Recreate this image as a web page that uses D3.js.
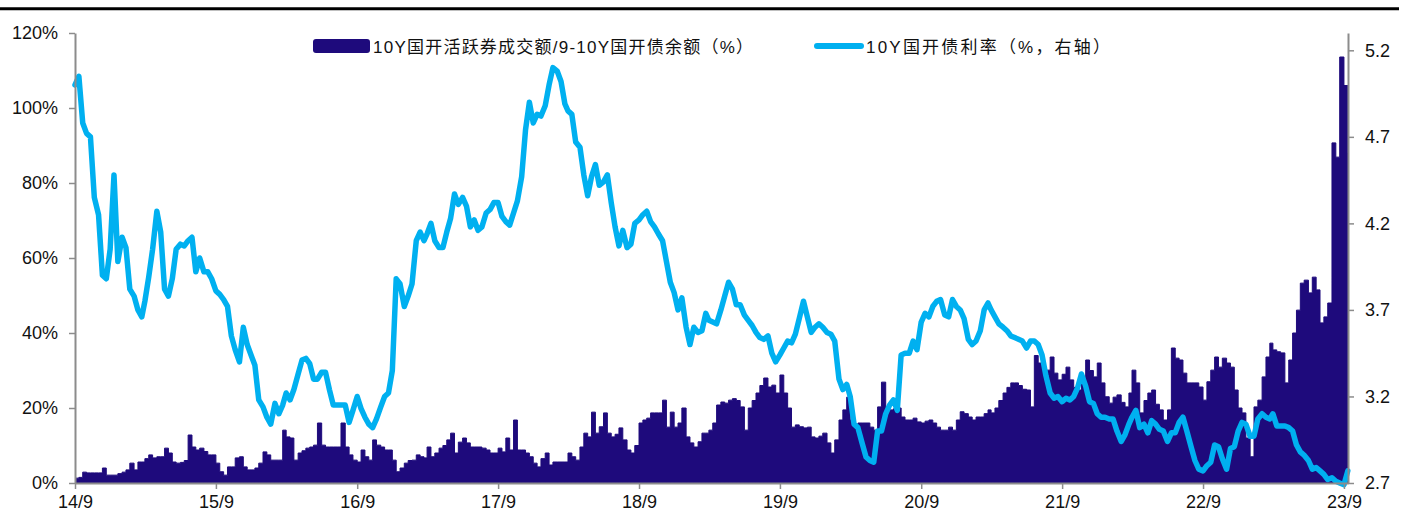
<!DOCTYPE html>
<html>
<head>
<meta charset="utf-8">
<script src="https://cdn.jsdelivr.net/npm/d3@7"></script>
<style>
  body { margin: 0; background: #fff; }
  text { font-family: "Liberation Sans", Arial, "Noto Sans CJK SC", sans-serif; fill: #111; }
</style>
</head>
<body>
<svg id="chart" width="1411" height="519"></svg>
<script>
// Series names (legend)
const barName = "10Y国开活跃券成交额/9-10Y国开债余额（%）";
const lineName = "10Y国开债利率（%，右轴）";

// 10Y active bond turnover / 9-10Y outstanding (%), one value per ten days from 2014-09-01
const ratio = [
  1.3, 1.5, 2.9, 2.7, 2.7, 2.7, 2.7, 4.0, 2.1, 2.1,
  2.1, 2.5, 2.9, 3.5, 5.3, 3.5, 5.6, 5.6, 6.5, 7.5,
  6.7, 7.0, 7.0, 9.3, 8.0, 5.6, 5.3, 5.5, 6.0, 12.8,
  9.6, 8.8, 9.3, 8.4, 7.5, 7.5, 5.3, 3.0, 2.1, 4.3,
  4.3, 6.7, 7.0, 4.3, 3.5, 3.5, 4.0, 5.3, 8.3, 7.5,
  6.1, 6.1, 6.1, 14.1, 12.3, 12.0, 6.1, 8.0, 8.6, 9.3,
  9.6, 10.1, 16.0, 10.1, 9.6, 9.6, 9.6, 9.6, 16.0, 9.6,
  7.5, 6.1, 5.6, 8.8, 7.0, 6.1, 11.5, 10.1, 9.6, 8.8,
  8.8, 6.1, 3.0, 4.0, 5.3, 6.0, 6.1, 7.5, 7.0, 6.7,
  9.6, 7.0, 8.0, 9.3, 10.0, 11.5, 13.3, 8.0, 10.9, 12.0,
  10.7, 9.6, 9.6, 9.6, 9.3, 8.8, 8.0, 8.0, 9.3, 8.3,
  12.0, 8.8, 16.8, 8.8, 8.8, 8.0, 7.0, 5.3, 4.3, 6.5,
  8.0, 4.8, 5.6, 5.6, 5.6, 5.6, 8.0, 7.0, 6.1, 9.6,
  13.3, 12.3, 18.9, 13.3, 15.0, 18.7, 13.3, 12.3, 13.0, 14.7,
  11.5, 8.8, 8.0, 10.0, 16.0, 16.8, 17.3, 18.7, 18.7, 18.7,
  22.1, 14.9, 18.9, 14.9, 16.0, 20.0, 12.3, 10.7, 9.6, 11.0,
  13.3, 13.3, 14.1, 16.0, 20.8, 21.6, 21.3, 22.1, 22.5, 22.0,
  20.3, 14.1, 20.0, 22.0, 24.0, 26.0, 28.0, 25.6, 26.1, 24.0,
  28.8, 24.0, 20.0, 14.9, 15.5, 15.0, 14.7, 14.9, 12.3, 12.0,
  12.5, 13.3, 10.7, 8.0, 11.5, 16.8, 19.5, 22.9, 16.8, 15.5,
  16.0, 16.0, 16.0, 14.9, 14.1, 20.3, 26.9, 20.3, 19.5, 19.8,
  20.0, 17.6, 16.8, 16.8, 17.3, 16.3, 16.0, 16.5, 16.8, 16.0,
  14.9, 14.1, 14.1, 14.9, 14.1, 16.8, 19.0, 18.5, 17.6, 16.8,
  17.6, 17.6, 18.5, 19.5, 18.7, 20.0, 22.0, 24.0, 25.5, 26.7,
  26.7, 26.0, 25.0, 24.8, 20.3, 34.0, 32.0, 30.9, 30.1, 33.6,
  29.3, 27.5, 29.0, 30.9, 27.5, 25.5, 24.8, 26.7, 32.8, 30.0,
  28.3, 32.0, 26.7, 23.0, 21.3, 22.9, 23.5, 21.5, 20.3, 24.0,
  30.1, 26.7, 18.7, 22.0, 24.0, 24.8, 21.0, 19.5, 16.8, 19.5,
  36.0, 33.3, 32.8, 29.3, 26.7, 26.7, 26.7, 25.6, 22.1, 27.0,
  30.1, 33.6, 30.9, 33.3, 32.0, 30.9, 24.8, 20.0, 18.7, 12.0,
  7.0, 20.3, 22.1, 28.3, 33.6, 37.3, 35.5, 35.0, 34.7, 26.7,
  32.8, 40.0, 46.1, 53.3, 54.1, 50.7, 54.9, 51.5, 42.7, 44.3,
  48.0, 90.7, 86.9, 113.6, 106.0, 88.0
];

// 10Y CDB yield (%), same dates
const yieldRate = [
  5.00, 5.05, 4.78, 4.72, 4.70, 4.35, 4.25, 3.90, 3.88, 4.05,
  4.48, 3.98, 4.12, 4.06, 3.82, 3.78, 3.70, 3.66, 3.75, 3.89,
  4.05, 4.27, 4.15, 3.82, 3.78, 3.88, 4.05, 4.08, 4.07, 4.10,
  4.12, 3.92, 4.00, 3.92, 3.92, 3.88, 3.81, 3.79, 3.76, 3.72,
  3.55, 3.47, 3.40, 3.60, 3.50, 3.44, 3.38, 3.18, 3.14, 3.08,
  3.04, 3.16, 3.10, 3.15, 3.22, 3.18, 3.24, 3.33, 3.41, 3.42,
  3.39, 3.30, 3.30, 3.34, 3.34, 3.24, 3.15, 3.15, 3.15, 3.15,
  3.05, 3.12, 3.20, 3.13, 3.08, 3.04, 3.02, 3.07, 3.14, 3.20,
  3.22, 3.35, 3.88, 3.85, 3.72, 3.78, 3.85, 4.10, 4.15, 4.10,
  4.14, 4.20, 4.10, 4.06, 4.06, 4.15, 4.23, 4.37, 4.31, 4.35,
  4.30, 4.18, 4.22, 4.16, 4.18, 4.26, 4.28, 4.32, 4.32, 4.24,
  4.21, 4.19, 4.26, 4.33, 4.47, 4.74, 4.90, 4.78, 4.83, 4.82,
  4.88, 5.00, 5.10, 5.08, 5.02, 4.89, 4.85, 4.83, 4.67, 4.64,
  4.48, 4.36, 4.47, 4.54, 4.42, 4.44, 4.48, 4.32, 4.18, 4.07,
  4.16, 4.06, 4.08, 4.20, 4.22, 4.25, 4.27, 4.21, 4.18, 4.14,
  4.10, 3.98, 3.86, 3.80, 3.70, 3.77, 3.60, 3.50, 3.60, 3.57,
  3.58, 3.68, 3.64, 3.63, 3.62, 3.70, 3.78, 3.86, 3.82, 3.73,
  3.73, 3.67, 3.64, 3.61, 3.57, 3.54, 3.53, 3.55, 3.45, 3.40,
  3.44, 3.48, 3.52, 3.51, 3.56, 3.65, 3.75, 3.66, 3.57, 3.60,
  3.62, 3.60, 3.57, 3.56, 3.52, 3.30, 3.24, 3.27, 3.20, 3.04,
  3.02, 2.93, 2.85, 2.83, 2.82, 3.00, 3.00, 3.10, 3.15, 3.18,
  3.12, 3.44, 3.45, 3.45, 3.52, 3.47, 3.63, 3.68, 3.66, 3.72,
  3.75, 3.76, 3.67, 3.66, 3.76, 3.72, 3.70, 3.65, 3.53, 3.50,
  3.52, 3.58, 3.70, 3.74, 3.70, 3.66, 3.62, 3.60, 3.58, 3.55,
  3.54, 3.53, 3.52, 3.48, 3.52, 3.52, 3.50, 3.44, 3.32, 3.22,
  3.19, 3.20, 3.17, 3.19, 3.18, 3.20, 3.25, 3.33, 3.26, 3.17,
  3.16, 3.10, 3.08, 3.08, 3.07, 3.07, 3.00, 2.94, 2.98, 3.04,
  3.08, 3.12, 3.02, 3.04, 2.99, 3.06, 3.04, 3.01, 3.00, 2.94,
  2.99, 2.99, 3.05, 3.08, 3.00, 2.91, 2.83, 2.78, 2.77, 2.80,
  2.82, 2.92, 2.91, 2.84, 2.78, 2.90, 2.91, 3.00, 3.05, 3.04,
  2.97, 2.97, 3.07, 3.10, 3.08, 3.07, 3.10, 3.03, 3.03, 3.03,
  3.02, 3.00, 2.92, 2.88, 2.86, 2.83, 2.78, 2.79, 2.77, 2.75,
  2.72, 2.73, 2.71, 2.70, 2.69, 2.77
];

// Axis ticks
const leftTicks = [0, 20, 40, 60, 80, 100, 120];
const rightTicks = [2.7, 3.2, 3.7, 4.2, 4.7, 5.2];
const xTickYears = [2014, 2015, 2016, 2017, 2018, 2019, 2020, 2021, 2022, 2023];

// Dates: 1st, 11th and 21st of every month starting 2014-09
const dates = [];
for (let m = 0; dates.length < ratio.length + 1; m++) {
  for (const day of [1, 11, 21]) dates.push(new Date(2014, 8 + m, day));
}

const barColor = "#1e0a7c";
const lineColor = "#00b0f0";
const axisColor = "#8c8c8c";

const margin = { left: 75, right: 63, top: 33, bottom: 36 };
const width = 1411, height = 519;
const plotRight = width - margin.right;    // 1348
const plotBottom = height - margin.bottom; // 483

const svg = d3.select("#chart");

const x = d3.scaleTime()
  .domain([new Date(2014, 8, 1), new Date(2023, 8, 11, 12)])
  .range([margin.left, plotRight]);
const yL = d3.scaleLinear().domain([0, 120]).range([plotBottom, margin.top]);
const yR = d3.scaleLinear().domain([2.7, 5.3]).range([plotBottom, margin.top]);

// top rule
svg.append("line")
  .attr("x1", 0).attr("x2", 1399).attr("y1", 8.7).attr("y2", 8.7)
  .attr("stroke", "#000").attr("stroke-width", 3);

svg.append("clipPath").attr("id", "plot")
  .append("rect")
  .attr("x", margin.left).attr("y", 0)
  .attr("width", plotRight - margin.left).attr("height", plotBottom);

// bars: drawn as one stepped outline (each value holds until the next date) so there are no seams
const barData = ratio.map((v, i) => ({ date: dates[i], v }));
barData.push({ date: dates[ratio.length], v: ratio[ratio.length - 1] });
const barArea = d3.area()
  .x(d => x(d.date))
  .y0(plotBottom)
  .y1(d => yL(d.v))
  .curve(d3.curveStepAfter);

svg.append("path")
  .attr("clip-path", "url(#plot)")
  .datum(barData)
  .attr("d", barArea)
  .attr("fill", barColor)
  .attr("stroke", barColor)
  .attr("stroke-width", 1)
  .attr("stroke-linejoin", "round");

// yield line
const line = d3.line()
  .x((d, i) => x(dates[i]))
  .y(d => yR(d));

svg.append("path")
  .datum(yieldRate)
  .attr("d", line)
  .attr("fill", "none")
  .attr("stroke", lineColor)
  .attr("stroke-width", 5.5)
  .attr("stroke-linejoin", "round")
  .attr("stroke-linecap", "round");

// axes
function styleAxis(g) {
  g.select(".domain").attr("stroke", axisColor).attr("stroke-width", 2);
  g.selectAll(".tick line").attr("stroke", axisColor).attr("stroke-width", 1.5);
  g.selectAll(".tick text").attr("font-size", 18).attr("fill", "#111")
    .attr("font-family", '"Liberation Sans", Arial, sans-serif');
}

svg.append("g")
  .attr("transform", `translate(${margin.left},0)`)
  .call(d3.axisLeft(yL).tickValues(leftTicks).tickFormat(d => d + "%")
    .tickSize(6).tickSizeOuter(0).tickPadding(11))
  .call(styleAxis);

svg.append("g")
  .attr("transform", `translate(${plotRight},0)`)
  .call(d3.axisRight(yR).tickValues(rightTicks).tickFormat(d3.format(".1f"))
    .tickSize(6).tickSizeOuter(0).tickPadding(11))
  .call(styleAxis);

svg.append("g")
  .attr("transform", `translate(0,${plotBottom})`)
  .call(d3.axisBottom(x).tickValues(xTickYears.map(y => new Date(y, 8, 1)))
    .tickFormat(d3.timeFormat("%y/%-m")).tickSize(6).tickSizeOuter(0).tickPadding(6))
  .call(styleAxis);

// legend
const legend = svg.append("g");
legend.append("rect")
  .attr("x", 313).attr("y", 39).attr("width", 57).attr("height", 14)
  .attr("rx", 3).attr("fill", barColor);
legend.append("text")
  .attr("x", 373).attr("y", 52.5)
  .attr("font-size", 17)
  .attr("textLength", 380).attr("lengthAdjust", "spacing")
  .text(barName);
legend.append("line")
  .attr("x1", 817).attr("x2", 861).attr("y1", 46).attr("y2", 46)
  .attr("stroke", lineColor).attr("stroke-width", 6).attr("stroke-linecap", "round");
legend.append("text")
  .attr("x", 866).attr("y", 52.5)
  .attr("font-size", 17)
  .attr("textLength", 244).attr("lengthAdjust", "spacing")
  .text(lineName);
</script>
</body>
</html>
